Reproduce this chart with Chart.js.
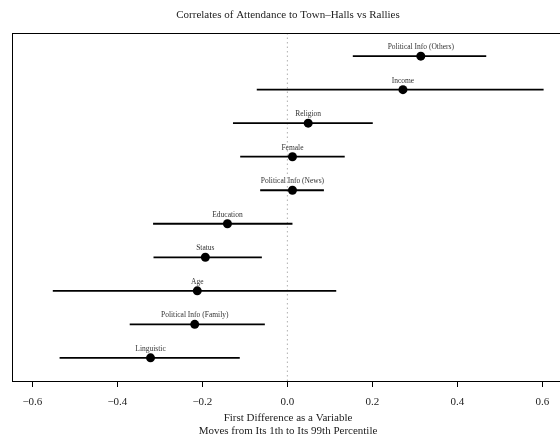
<!DOCTYPE html>
<html>
<head>
<meta charset="utf-8">
<script src="https://cdn.jsdelivr.net/npm/chart.js@4"></script>
<style>
  html, body { margin: 0; padding: 0; background: #fff; overflow: hidden; }
</style>
</head>
<body>
<canvas id="fdChart" width="569" height="443"></canvas>
<script>
// rows from bottom to top
const variables = ['Linguistic', 'Political Info (Family)', 'Age', 'Status', 'Education',
  'Political Info (News)', 'Female', 'Religion', 'Income', 'Political Info (Others)'];
const estimates = [-0.322, -0.218, -0.212, -0.193, -0.141, 0.012, 0.012, 0.049, 0.272, 0.314];
const lower = [-0.536, -0.371, -0.552, -0.315, -0.316, -0.064, -0.111, -0.128, -0.072, 0.154];
const upper = [-0.112, -0.053, 0.115, -0.060, 0.012, 0.086, 0.135, 0.201, 0.603, 0.468];
const xTicks = [-0.6, -0.4, -0.2, 0, 0.2, 0.4, 0.6];

const titleText = 'Correlates of Attendance to Town\u2013Halls vs Rallies';
const xTitle = ['First Difference as a Variable', 'Moves from Its 1th to Its 99th Percentile'];
const serif = "'Liberation Serif', 'DejaVu Serif', serif";

let yMin = 0.31, yMax = 10.69;

let intervalSets = variables.map((name, i) => ({
  data: [{ x: lower[i], y: i + 1 }, { x: upper[i], y: i + 1 }],
  showLine: true,
  borderColor: '#000',
  borderWidth: 1.8,
  pointRadius: 0,
  order: 2
}));

// box, title, labels and axis title
const decorations = {
  id: 'decorations',
  afterDraw(chart) {
    let ctx = chart.ctx;
    let area = chart.chartArea;
    let xs = chart.scales.x, ys = chart.scales.y;
    ctx.save();
    ctx.strokeStyle = '#000';
    ctx.lineWidth = 1;
    ctx.strokeRect(Math.round(area.left) + 0.5, Math.round(area.top) + 0.5,
      Math.round(area.right - area.left), Math.round(area.bottom - area.top));

    ctx.fillStyle = '#222';
    ctx.textAlign = 'center';
    ctx.textBaseline = 'middle';
    ctx.font = '11px ' + serif;
    let cx = (area.left + area.right) / 2;
    ctx.fillText(titleText, cx, 15);

    ctx.font = '11px ' + serif;
    ctx.fillText(xTitle[0], cx, 418.5);
    ctx.fillText(xTitle[1], cx, 431);

    ctx.font = '7.5px ' + serif;
    ctx.fillStyle = '#333';
    variables.forEach((name, i) => {
      ctx.fillText(name, xs.getPixelForValue(estimates[i]), ys.getPixelForValue(i + 1) - 9);
    });
    ctx.restore();
  }
};

let ctx = document.getElementById('fdChart').getContext('2d');
new Chart(ctx, {
  type: 'scatter',
  data: {
    datasets: [
      {
        data: [{ x: 0, y: yMin }, { x: 0, y: yMax }],
        showLine: true,
        borderColor: '#b0b0b0',
        borderWidth: 1,
        borderDash: [1.5, 3],
        pointRadius: 0,
        order: 3
      },
      ...intervalSets,
      {
        data: estimates.map((v, i) => ({ x: v, y: i + 1 })),
        pointRadius: 4.5,
        pointBackgroundColor: '#000',
        pointBorderColor: '#000',
        pointBorderWidth: 0,
        order: 1
      }
    ]
  },
  options: {
    responsive: false,
    animation: false,
    layout: { padding: { left: 12, right: 5, top: 33, bottom: 25 } },
    plugins: {
      legend: { display: false },
      tooltip: { enabled: false }
    },
    scales: {
      x: {
        type: 'linear',
        min: -0.648,
        max: 0.651,
        afterBuildTicks: s => { s.ticks = xTicks.map(v => ({ value: v })); },
        grid: { drawOnChartArea: false, drawTicks: true, tickLength: 6, color: '#000' },
        border: { display: false },
        ticks: {
          color: '#222',
          padding: 10,
          maxRotation: 0,
          font: { family: serif, size: 11, lineHeight: 1 },
          callback: v => (v < 0 ? '\u2212' : '') + Math.abs(v).toFixed(1)
        }
      },
      y: {
        type: 'linear',
        display: false,
        min: yMin,
        max: yMax
      }
    }
  },
  plugins: [decorations]
});
</script>
</body>
</html>
